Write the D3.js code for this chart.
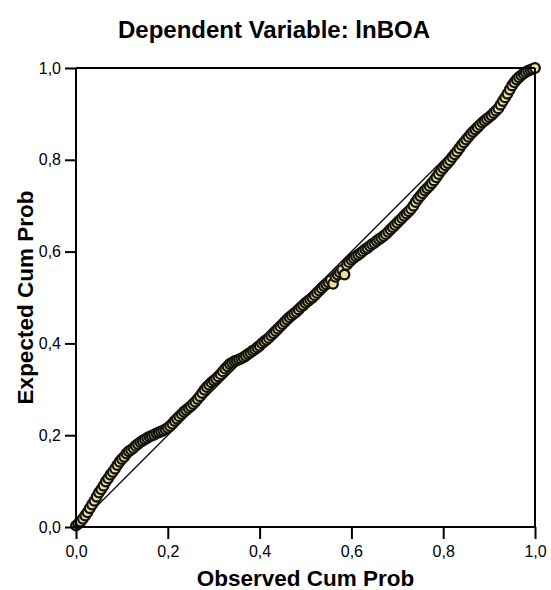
<!DOCTYPE html>
<html>
<head>
<meta charset="utf-8">
<script src="https://cdn.jsdelivr.net/npm/d3@7"></script>
<style>
  body { margin: 0; background: #fff; }
  text { font-family: "Liberation Sans", Arial, Helvetica, sans-serif; fill: #000; }
  .titleText { font-size: 24px; font-weight: bold; }
  .axisText { font-size: 22.5px; font-weight: bold; }
</style>
</head>
<body>
<script>
// Observed cumulative probability (x) and expected cumulative probability (y)
var observed = [
  0.000, 0.005, 0.010, 0.015, 0.020, 0.025, 0.030, 0.035, 0.040, 0.045,
  0.050, 0.055, 0.060, 0.065, 0.070, 0.075, 0.080, 0.085, 0.090, 0.095,
  0.100, 0.105, 0.110, 0.115, 0.120, 0.125, 0.130, 0.135, 0.140, 0.145,
  0.150, 0.155, 0.160, 0.165, 0.170, 0.175, 0.180, 0.185, 0.190, 0.195,
  0.200, 0.205, 0.210, 0.215, 0.220, 0.225, 0.230, 0.235, 0.240, 0.245,
  0.250, 0.255, 0.260, 0.265, 0.270, 0.275, 0.280, 0.285, 0.290, 0.295,
  0.300, 0.305, 0.310, 0.315, 0.320, 0.325, 0.330, 0.335, 0.340, 0.345,
  0.350, 0.355, 0.360, 0.365, 0.370, 0.375, 0.380, 0.385, 0.390, 0.395,
  0.400, 0.405, 0.410, 0.415, 0.420, 0.425, 0.430, 0.435, 0.440, 0.445,
  0.450, 0.455, 0.460, 0.465, 0.470, 0.475, 0.480, 0.485, 0.490, 0.495,
  0.500, 0.505, 0.510, 0.515, 0.520, 0.525, 0.530, 0.535, 0.540, 0.545,
  0.550, 0.555, 0.560, 0.565, 0.570, 0.575, 0.580, 0.585, 0.590, 0.595,
  0.600, 0.605, 0.610, 0.615, 0.620, 0.625, 0.630, 0.635, 0.640, 0.645,
  0.650, 0.655, 0.660, 0.665, 0.670, 0.675, 0.680, 0.685, 0.690, 0.695,
  0.700, 0.705, 0.710, 0.715, 0.720, 0.725, 0.730, 0.735, 0.740, 0.745,
  0.750, 0.755, 0.760, 0.765, 0.770, 0.775, 0.780, 0.785, 0.790, 0.795,
  0.800, 0.805, 0.810, 0.815, 0.820, 0.825, 0.830, 0.835, 0.840, 0.845,
  0.850, 0.855, 0.860, 0.865, 0.870, 0.875, 0.880, 0.885, 0.890, 0.895,
  0.900, 0.905, 0.910, 0.915, 0.920, 0.925, 0.930, 0.935, 0.940, 0.945,
  0.950, 0.955, 0.960, 0.965, 0.970, 0.975, 0.980, 0.985, 0.990, 0.995,
  1.000
];

var expected = [
  0.003, 0.007, 0.012, 0.018, 0.025, 0.032, 0.041, 0.049, 0.057, 0.066,
  0.075, 0.082, 0.090, 0.099, 0.106, 0.114, 0.120, 0.127, 0.135, 0.142,
  0.148, 0.153, 0.160, 0.165, 0.168, 0.172, 0.177, 0.181, 0.185, 0.188,
  0.191, 0.194, 0.197, 0.199, 0.201, 0.204, 0.206, 0.208, 0.210, 0.213,
  0.216, 0.220, 0.225, 0.231, 0.236, 0.241, 0.246, 0.251, 0.255, 0.259,
  0.263, 0.268, 0.273, 0.279, 0.285, 0.292, 0.299, 0.305, 0.310, 0.315,
  0.319, 0.323, 0.328, 0.333, 0.339, 0.345, 0.350, 0.355, 0.358, 0.361,
  0.363, 0.365, 0.367, 0.370, 0.373, 0.377, 0.380, 0.384, 0.387, 0.391,
  0.395, 0.400, 0.404, 0.408, 0.412, 0.417, 0.422, 0.427, 0.432, 0.437,
  0.442, 0.447, 0.452, 0.457, 0.461, 0.465, 0.469, 0.474, 0.479, 0.483,
  0.488, 0.492, 0.496, 0.500, 0.505, 0.510, 0.515, 0.520, 0.525, 0.529,
  0.533, 0.538, 0.530, 0.545, 0.550, 0.555, 0.560, 0.550, 0.571, 0.577,
  0.582, 0.586, 0.590, 0.593, 0.597, 0.601, 0.605, 0.608, 0.612, 0.616,
  0.619, 0.623, 0.627, 0.630, 0.634, 0.638, 0.643, 0.648, 0.653, 0.658,
  0.663, 0.668, 0.673, 0.678, 0.683, 0.688, 0.693, 0.700, 0.708, 0.715,
  0.721, 0.727, 0.733, 0.738, 0.743, 0.749, 0.755, 0.762, 0.769, 0.776,
  0.782, 0.788, 0.793, 0.799, 0.806, 0.812, 0.818, 0.825, 0.832, 0.838,
  0.844, 0.850, 0.856, 0.861, 0.866, 0.871, 0.876, 0.881, 0.885, 0.889,
  0.893, 0.897, 0.902, 0.907, 0.912, 0.920, 0.928, 0.936, 0.944, 0.953,
  0.962, 0.969, 0.975, 0.980, 0.984, 0.988, 0.991, 0.994, 0.996, 0.998,
  1.000
];

var tickValues = [0, 0.2, 0.4, 0.6, 0.8, 1.0];
var tickLabels = ["0,0", "0,2", "0,4", "0,6", "0,8", "1,0"];

var svgWidth = 551;
var svgHeight = 590;

var margin = { top: 68, right: 16, bottom: 63, left: 76 };
var width = svgWidth - margin.left - margin.right;
var height = svgHeight - margin.top - margin.bottom;

var svg = d3.select("body")
  .append("svg")
  .attr("width", svgWidth)
  .attr("height", svgHeight);

var chart = svg.append("g")
  .attr("transform", `translate(${margin.left}, ${margin.top})`);

var xScale = d3.scaleLinear().domain([0, 1]).range([0, width]);
var yScale = d3.scaleLinear().domain([0, 1]).range([height, 0]);

// diagonal reference line
chart.append("line")
  .attr("x1", xScale(0))
  .attr("y1", yScale(0))
  .attr("x2", xScale(1))
  .attr("y2", yScale(1))
  .attr("stroke", "#000")
  .attr("stroke-width", 1.3);

// points
var points = observed.map(function(d, i) { return { x: d, y: expected[i] }; });

chart.selectAll("circle")
  .data(points)
  .enter()
  .append("circle")
  .attr("cx", function(d) { return xScale(d.x); })
  .attr("cy", function(d) { return yScale(d.y); })
  .attr("r", 4.8)
  .attr("fill", "#e8e0a6")
  .attr("stroke", "#14140d")
  .attr("stroke-width", 2.3);

// frame (top and right)
chart.append("line")
  .attr("x1", 0).attr("y1", 0)
  .attr("x2", width).attr("y2", 0)
  .attr("stroke", "#000").attr("stroke-width", 2);
chart.append("line")
  .attr("x1", width).attr("y1", 0)
  .attr("x2", width).attr("y2", height)
  .attr("stroke", "#000").attr("stroke-width", 2);

// axes
var bottomAxis = d3.axisBottom(xScale)
  .tickValues(tickValues)
  .tickSize(12)
  .tickPadding(7)
  .tickFormat(function(d, i) { return tickLabels[i]; });

var leftAxis = d3.axisLeft(yScale)
  .tickValues(tickValues)
  .tickSize(11)
  .tickPadding(4)
  .tickFormat(function(d, i) { return tickLabels[i]; });

var xAxisG = chart.append("g")
  .attr("transform", `translate(0, ${height})`)
  .call(bottomAxis);

var yAxisG = chart.append("g")
  .call(leftAxis);

[xAxisG, yAxisG].forEach(function(g) {
  g.select(".domain").attr("stroke", "#000").attr("stroke-width", 2)
    .attr("d", g === xAxisG ? `M0,0H${width}` : `M0,${height}V0`);
  g.selectAll(".tick line").attr("stroke", "#000").attr("stroke-width", 2);
  g.selectAll(".tick text")
    .attr("fill", "#000")
    .style("font-family", "\"Liberation Sans\", Arial, sans-serif")
    .style("font-size", "16px");
});

// title
svg.append("text")
  .attr("x", 274)
  .attr("y", 38)
  .attr("text-anchor", "middle")
  .attr("class", "titleText")
  .text("Dependent Variable: lnBOA");

// x axis label
svg.append("text")
  .attr("x", margin.left + width / 2)
  .attr("y", 586)
  .attr("text-anchor", "middle")
  .attr("class", "axisText")
  .text("Observed Cum Prob");

// y axis label
svg.append("text")
  .attr("transform", `translate(33, ${margin.top + height / 2}) rotate(-90)`)
  .attr("text-anchor", "middle")
  .attr("class", "axisText")
  .text("Expected Cum Prob");
</script>
</body>
</html>
